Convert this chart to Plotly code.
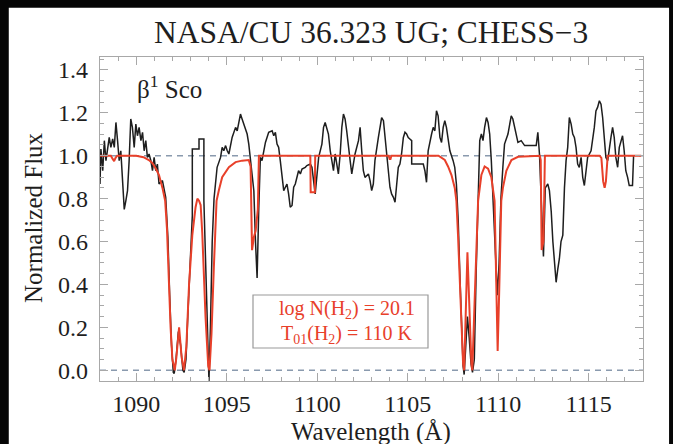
import plotly.graph_objects as go

# Observed CHESS-3 spectrum of beta1 Sco (normalized flux)
wave_obs = [
    1088.00, 1088.05, 1088.15, 1088.24, 1088.33, 1088.42, 1088.51, 1088.60, 1088.70, 1088.79,
    1088.88, 1088.97, 1089.06, 1089.15, 1089.25, 1089.34, 1089.43, 1089.52, 1089.61, 1089.70,
    1089.79, 1089.89, 1089.98, 1090.07, 1090.16, 1090.26, 1090.35, 1090.44, 1090.53, 1090.62,
    1090.71, 1090.81, 1090.90, 1090.99, 1091.08, 1091.17, 1091.26, 1091.45, 1091.63, 1091.75,
    1091.85, 1091.95, 1092.05, 1092.10, 1092.20, 1092.33, 1092.45, 1092.58, 1092.65, 1092.75,
    1092.85, 1092.95, 1093.05, 1093.10, 1093.10, 1093.47, 1093.47, 1093.74, 1093.74, 1093.85,
    1093.95, 1094.02, 1094.10, 1094.20, 1094.30, 1094.38, 1094.47, 1094.66, 1094.75, 1094.84,
    1094.94, 1095.03, 1095.12, 1095.30, 1095.49, 1095.58, 1095.67, 1095.76, 1095.85, 1095.95,
    1096.04, 1096.13, 1096.22, 1096.31, 1096.40, 1096.50, 1096.59, 1096.68, 1096.77, 1096.86,
    1096.95, 1097.14, 1097.32, 1097.51, 1097.60, 1097.69, 1097.78, 1097.87, 1097.96, 1098.06,
    1098.15, 1098.24, 1098.33, 1098.42, 1098.51, 1098.61, 1098.70, 1098.79, 1098.88, 1098.97,
    1099.07, 1099.16, 1099.34, 1099.43, 1099.62, 1099.71, 1099.89, 1100.08, 1100.26, 1100.35,
    1100.44, 1100.53, 1100.62, 1100.72, 1100.81, 1100.90, 1100.99, 1101.08, 1101.17, 1101.27,
    1101.36, 1101.45, 1101.54, 1101.63, 1101.72, 1101.82, 1101.91, 1102.00, 1102.09, 1102.28,
    1102.37, 1102.46, 1102.55, 1102.64, 1102.83, 1102.92, 1103.01, 1103.10, 1103.19, 1103.38,
    1103.56, 1103.66, 1103.75, 1103.84, 1103.93, 1104.02, 1104.11, 1104.21, 1104.30, 1104.39,
    1104.48, 1104.57, 1104.66, 1104.76, 1104.85, 1104.94, 1105.03, 1105.12, 1105.22, 1105.22,
    1105.86, 1105.95, 1106.04, 1106.13, 1106.23, 1106.32, 1106.41, 1106.50, 1106.59, 1106.68,
    1106.78, 1106.87, 1106.96, 1107.05, 1107.14, 1107.23, 1107.33, 1107.51, 1107.60, 1107.69,
    1107.79, 1107.88, 1107.97, 1108.06, 1108.12, 1108.20, 1108.30, 1108.40, 1108.50, 1108.58,
    1108.68, 1108.78, 1108.89, 1108.98, 1109.07, 1109.16, 1109.25, 1109.35, 1109.44, 1109.53,
    1109.62, 1109.71, 1109.82, 1109.95, 1110.05, 1110.15, 1110.26, 1110.35, 1110.54, 1110.63,
    1110.72, 1110.81, 1110.91, 1111.00, 1111.09, 1111.27, 1111.46, 1112.10, 1112.19, 1112.28,
    1112.37, 1112.50, 1112.60, 1112.74, 1112.83, 1112.93, 1113.02, 1113.20, 1113.29, 1113.38,
    1113.47, 1113.57, 1113.66, 1113.75, 1113.84, 1113.93, 1114.03, 1114.12, 1114.21, 1114.30,
    1114.39, 1114.48, 1114.58, 1114.67, 1114.76, 1114.85, 1114.94, 1115.13, 1115.22, 1115.31,
    1115.40, 1115.49, 1115.59, 1115.68, 1115.77, 1115.86, 1115.95, 1116.05, 1116.14, 1116.23,
    1116.32, 1116.41, 1116.50, 1116.60, 1116.69, 1116.78, 1116.87, 1116.96, 1117.05, 1117.15,
    1117.24, 1117.42, 1117.48,
]
flux_obs = [
    0.868, 1.031, 0.930, 1.070, 0.977, 1.031, 1.085, 1.039, 1.078, 1.039,
    1.155, 1.070, 0.977, 1.023, 0.868, 0.750, 0.791, 0.837, 0.977, 1.171,
    1.132, 1.039, 1.147, 1.093, 1.132, 1.070, 1.109, 1.023, 1.070, 0.992,
    1.008, 0.977, 0.930, 0.992, 0.930, 0.961, 0.868, 0.884, 0.806, 0.620,
    0.350, 0.120, -0.010, -0.015, 0.050, 0.180, 0.120, 0.000, -0.010, 0.050,
    0.250, 0.450, 0.700, 0.720, 1.031, 1.031, 1.078, 1.078, 0.790, 0.450,
    0.150, -0.050, 0.200, 0.600, 0.800, 0.880, 0.946, 0.992, 1.039, 1.023,
    1.047, 1.023, 1.008, 1.085, 1.132, 1.116, 1.163, 1.194, 1.171, 1.147,
    1.116, 1.101, 1.054, 0.992, 0.930, 0.837, 0.600, 0.430, 0.750, 0.992,
    0.977, 1.062, 1.109, 1.116, 1.093, 1.109, 1.054, 1.039, 0.977, 0.899,
    0.837, 0.853, 0.868, 0.822, 0.760, 0.768, 0.853, 0.868, 0.907, 0.930,
    0.915, 0.938, 0.946, 0.954, 0.961, 0.946, 0.822, 0.992, 1.054, 1.132,
    1.155, 1.132, 1.101, 1.023, 0.977, 0.930, 1.008, 0.961, 0.915, 1.008,
    1.132, 1.194, 1.171, 1.116, 1.039, 0.977, 0.915, 0.961, 1.008, 1.070,
    1.132, 1.023, 0.930, 0.899, 0.915, 0.884, 0.837, 0.868, 0.977, 1.085,
    1.178, 1.163, 1.078, 1.008, 0.930, 0.853, 0.822, 0.806, 0.783, 0.853,
    0.946, 0.961, 1.008, 1.085, 1.109, 1.101, 1.085, 1.078, 1.070, 0.961,
    0.961, 0.930, 0.876, 1.023, 1.070, 1.101, 1.132, 1.116, 1.209, 1.186,
    1.085, 1.062, 1.132, 1.163, 1.132, 1.070, 1.023, 0.977, 0.946, 0.868,
    0.700, 0.450, 0.200, 0.020, -0.020, 0.120, 0.250, 0.150, 0.030, -0.010,
    0.050, 0.450, 0.850, 1.070, 1.101, 1.070, 1.132, 1.178, 1.155, 1.101,
    0.977, 0.800, 0.550, 0.350, 0.500, 0.800, 0.950, 1.054, 1.101, 1.147,
    1.186, 1.171, 1.132, 1.085, 1.062, 1.070, 1.047, 1.047, 1.109, 1.008,
    0.822, 0.530, 0.850, 0.868, 0.837, 0.740, 0.600, 0.410, 0.470, 0.520,
    0.600, 0.630, 0.850, 0.977, 1.039, 1.178, 1.147, 1.101, 1.085, 1.039,
    0.961, 0.946, 0.992, 0.899, 0.861, 0.930, 0.992, 1.023, 1.070, 1.132,
    1.209, 1.225, 1.256, 1.240, 1.178, 1.085, 0.992, 0.977, 1.039, 1.085,
    1.132, 1.085, 0.992, 0.946, 1.039, 1.070, 1.093, 1.023, 0.930, 0.899,
    0.861, 0.861, 1.000,
]

# H2 model: log N(H2) = 20.1, T01 = 110 K
wave_mod = [
    1088.00, 1088.60, 1088.70, 1088.78, 1088.86, 1088.95, 1090.00, 1090.40, 1090.70, 1090.90,
    1091.08, 1091.26, 1091.45, 1091.60, 1091.70, 1091.80, 1091.90, 1092.00, 1092.08, 1092.13,
    1092.22, 1092.37, 1092.51, 1092.64, 1092.77, 1092.92, 1093.10, 1093.28, 1093.38, 1093.47,
    1093.56, 1093.65, 1093.83, 1093.98, 1094.05, 1094.16, 1094.29, 1094.44, 1094.57, 1094.75,
    1095.12, 1095.49, 1095.85, 1096.22, 1096.32, 1096.40, 1096.50, 1096.60, 1096.72, 1096.78,
    1099.62, 1099.64, 1099.87, 1099.89, 1103.95, 1104.00, 1104.05, 1104.10, 1106.70, 1106.87,
    1107.05, 1107.23, 1107.42, 1107.60, 1107.69, 1107.78, 1107.88, 1107.97, 1108.06, 1108.12,
    1108.30, 1108.52, 1108.57, 1108.70, 1108.80, 1108.89, 1109.07, 1109.25, 1109.44, 1109.62,
    1109.80, 1109.90, 1109.97, 1110.05, 1110.17, 1110.26, 1110.45, 1110.73, 1111.10, 1112.30,
    1112.35, 1112.40, 1112.50, 1112.58, 1115.60, 1115.70, 1115.80, 1115.88, 1115.95, 1116.05,
    1117.90,
]
flux_mod = [
    1.000, 1.000, 0.985, 0.975, 0.990, 1.000, 1.000, 0.993, 0.980, 0.965,
    0.940, 0.910, 0.850, 0.790, 0.660, 0.420, 0.200, 0.050, 0.005, 0.000,
    0.060, 0.200, 0.060, 0.000, 0.110, 0.400, 0.630, 0.760, 0.800, 0.790,
    0.770, 0.640, 0.250, 0.020, 0.000, 0.170, 0.480, 0.790, 0.840, 0.900,
    0.946, 0.970, 0.977, 0.980, 0.950, 0.560, 0.620, 0.650, 0.750, 1.000,
    1.000, 0.830, 0.830, 1.000, 1.000, 0.985, 0.985, 1.000, 1.000, 0.990,
    0.980, 0.950, 0.910, 0.850, 0.790, 0.630, 0.400, 0.170, 0.030, 0.000,
    0.550, 0.030, 0.000, 0.330, 0.560, 0.790, 0.910, 0.950, 0.940, 0.900,
    0.790, 0.400, 0.090, 0.350, 0.790, 0.850, 0.930, 0.980, 0.995, 1.000,
    0.980, 0.560, 0.600, 1.000, 1.000, 0.990, 0.880, 0.850, 0.880, 1.000,
    1.000,
]

x_ticks = [1090, 1095, 1100, 1105, 1110, 1115]
y_ticks = [0.0, 0.2, 0.4, 0.6, 0.8, 1.0, 1.2, 1.4]
x_range = [1088, 1118]
y_range = [-0.05, 1.46]
ref_levels = [0.0, 1.0]

SERIF = "Liberation Serif, Times New Roman, serif"
INK = "#1e1e1e"
RED = "#e8402a"
FRAME = "#a8a8a8"

fig = go.Figure()

for lvl in ref_levels:
    fig.add_trace(go.Scatter(
        x=x_range, y=[lvl, lvl], mode="lines",
        line=dict(color="#8a9aae", width=1.6, dash="6px,5px"),
        hoverinfo="skip", showlegend=False,
    ))

fig.add_trace(go.Scatter(
    x=wave_obs, y=flux_obs, mode="lines",
    line=dict(color=INK, width=1.5), showlegend=False,
))
fig.add_trace(go.Scatter(
    x=wave_mod, y=flux_mod, mode="lines",
    line=dict(color=RED, width=2), showlegend=False,
))

axis_common = dict(
    showgrid=False, zeroline=False, showline=True, linecolor=FRAME, linewidth=1.2,
    mirror="allticks", ticks="inside", ticklen=8, tickwidth=1, tickcolor=FRAME,
    tickfont=dict(family=SERIF, size=24, color=INK),
)

fig.update_xaxes(
    range=x_range, tickvals=x_ticks, ticklabelstandoff=1,
    minor=dict(dtick=1, ticks="inside", ticklen=4, tickcolor=FRAME),
    **axis_common,
)
fig.update_yaxes(
    range=y_range, tickvals=y_ticks, tickformat=".1f", ticklabelstandoff=6,
    minor=dict(dtick=0.05, ticks="inside", ticklen=4, tickcolor=FRAME),
    **axis_common,
)

# white page on a black surround
fig.add_shape(type="rect", xref="paper", yref="paper",
              x0=-0.168, x1=1.048, y0=-0.2, y1=1.152,
              fillcolor="white", line=dict(width=0), layer="below")

# parameter box
fig.add_shape(type="rect", xref="paper", yref="paper",
              x0=(253 - 100) / 543, x1=(428 - 100) / 543,
              y0=(381 - 348) / 324, y1=(381 - 295) / 324,
              line=dict(color="#999999", width=1.2), fillcolor="white", layer="above")

notes = [
    dict(text="NASA/CU 36.323 UG; CHESS\u22123", x=0.499, y=1.077, size=31.5,
         color=INK, xanchor="center"),
    dict(text="Wavelength (\u00c5)", x=0.499, y=-0.158, size=25, color=INK,
         xanchor="center"),
    dict(text="\u03b2<sup>1</sup> Sco", x=(135 - 100) / 543, y=(381 - 87) / 324,
         size=25, color=INK, xanchor="left"),
    dict(text="log N(H<sub>2</sub>) = 20.1", x=(347 - 100) / 543, y=(381 - 309) / 324,
         size=20, color=RED, xanchor="center"),
    dict(text="T<sub>01</sub>(H<sub>2</sub>) = 110 K", x=(347 - 100) / 543,
         y=(381 - 334) / 324, size=20, color=RED, xanchor="center"),
]
for n in notes:
    fig.add_annotation(text=n["text"], x=n["x"], y=n["y"], xref="paper", yref="paper",
                       xanchor=n["xanchor"], yanchor="middle", showarrow=False,
                       font=dict(family=SERIF, size=n["size"], color=n["color"]))

fig.add_annotation(text="Normalized Flux", x=(33 - 100) / 543, y=(381 - 218) / 324,
                   xref="paper", yref="paper", textangle=-90, showarrow=False,
                   xanchor="center", yanchor="middle",
                   font=dict(family=SERIF, size=25, color=INK))

fig.update_layout(
    width=673, height=444,
    margin=dict(l=100, r=30, t=57, b=63),
    paper_bgcolor="#050505", plot_bgcolor="white",
    showlegend=False,
)

fig.write_html("out.html")
